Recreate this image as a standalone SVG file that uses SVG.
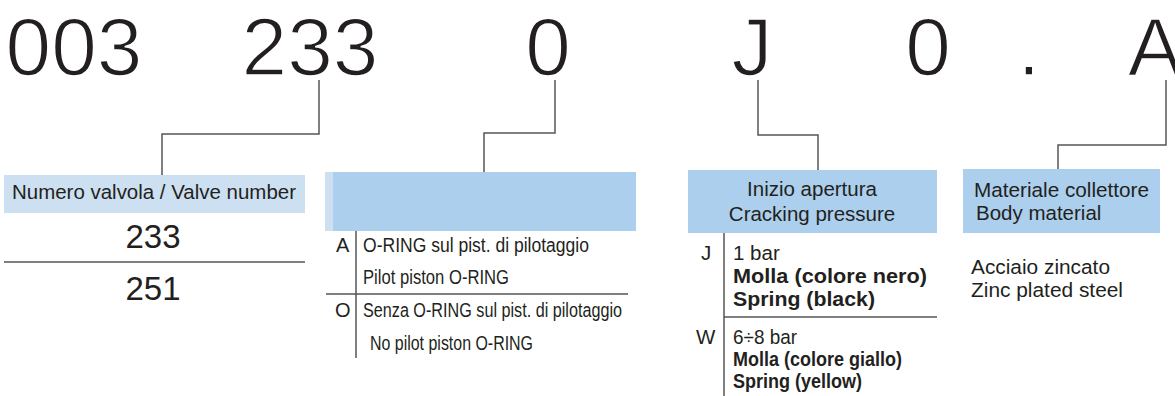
<svg xmlns="http://www.w3.org/2000/svg" width="1175" height="396" viewBox="0 0 1175 396">
<style>
text{font-family:"Liberation Sans",Arial,sans-serif;fill:#231f20}
.big{font-size:82px;text-anchor:middle;stroke:#fff;stroke-width:1.6}
.hdr{font-size:20.5px}
.t{font-size:20px}
.b{font-weight:bold}
.ln{stroke:#555;stroke-width:1.5;fill:none}
.fill1{fill:#cde0f1}
.fill2{fill:#abcfec}
</style>
<rect width="1175" height="396" fill="#fff"/>
<g id="code">
<text class="big" x="74" y="75">003</text>
<text class="big" x="310" y="75">233</text>
<text class="big" x="548" y="75">0</text>
<text class="big" x="752" y="75">J</text>
<text class="big" x="928" y="75">0</text>
<text class="big" x="1029" y="75">.</text>
<text class="big" x="1155" y="75">A</text>
</g>
<g id="connectors">
<polyline class="ln" points="319,80 319,134 162,134 162,175"/>
<polyline class="ln" points="555,80 555,133 484,133 484,172"/>
<polyline class="ln" points="758,80 758,135 818,135 818,170"/>
<polyline class="ln" points="1166,80 1166,145 1058,145 1058,169"/>
</g>
<g id="valve-number">
<rect class="fill1" x="4" y="175" width="301" height="38"/>
<text class="hdr" x="154" y="199" text-anchor="middle" textLength="284" lengthAdjust="spacingAndGlyphs">Numero valvola / Valve number</text>
<text x="153" y="248" font-size="33" text-anchor="middle">233</text>
<line class="ln" x1="4" y1="262" x2="305" y2="262"/>
<text x="153" y="300" font-size="33" text-anchor="middle">251</text>
</g>
<g id="oring">
<rect class="fill2" x="325" y="172" width="311" height="59"/>
<rect class="fill1" x="325" y="172" width="8" height="59"/>
<line class="ln" x1="356" y1="231" x2="356" y2="358"/>
<text class="t" x="336" y="252">A</text>
<text class="t" x="363" y="252" textLength="226" lengthAdjust="spacingAndGlyphs">O-RING sul pist. di pilotaggio</text>
<text class="t" x="363" y="284" textLength="146" lengthAdjust="spacingAndGlyphs">Pilot piston O-RING</text>
<line class="ln" x1="326" y1="294" x2="628" y2="294"/>
<text class="t" x="335" y="317">O</text>
<text class="t" x="363" y="317" textLength="259" lengthAdjust="spacingAndGlyphs">Senza O-RING sul pist. di pilotaggio</text>
<text class="t" x="370" y="350" textLength="163" lengthAdjust="spacingAndGlyphs">No pilot piston O-RING</text>
</g>
<g id="cracking">
<rect class="fill2" x="688" y="170" width="249" height="63"/>
<text class="hdr" x="812" y="196" text-anchor="middle">Inizio apertura</text>
<text class="hdr" x="812" y="221" text-anchor="middle">Cracking pressure</text>
<line class="ln" x1="724" y1="233" x2="724" y2="396"/>
<text class="hdr" x="701" y="260">J</text>
<text class="hdr" x="733" y="260">1 bar</text>
<text class="hdr b" x="733" y="283" textLength="194" lengthAdjust="spacingAndGlyphs">Molla (colore nero)</text>
<text class="hdr b" x="733" y="306" textLength="142" lengthAdjust="spacingAndGlyphs">Spring (black)</text>
<line class="ln" x1="724" y1="317" x2="937" y2="317"/>
<text class="hdr" x="696" y="344">W</text>
<text class="hdr" x="733" y="344" textLength="64" lengthAdjust="spacingAndGlyphs">6÷8 bar</text>
<text class="hdr b" x="733" y="366" textLength="169" lengthAdjust="spacingAndGlyphs">Molla (colore giallo)</text>
<text class="hdr b" x="733" y="388" textLength="129" lengthAdjust="spacingAndGlyphs">Spring (yellow)</text>
</g>
<g id="material">
<rect class="fill2" x="963" y="169" width="197" height="64"/>
<text class="hdr" x="974" y="197" textLength="175" lengthAdjust="spacingAndGlyphs">Materiale collettore</text>
<text class="hdr" x="976" y="220">Body material</text>
<text class="hdr" x="971" y="274" textLength="139" lengthAdjust="spacingAndGlyphs">Acciaio zincato</text>
<text class="hdr" x="971" y="297" textLength="152" lengthAdjust="spacingAndGlyphs">Zinc plated steel</text>
</g>
</svg>
